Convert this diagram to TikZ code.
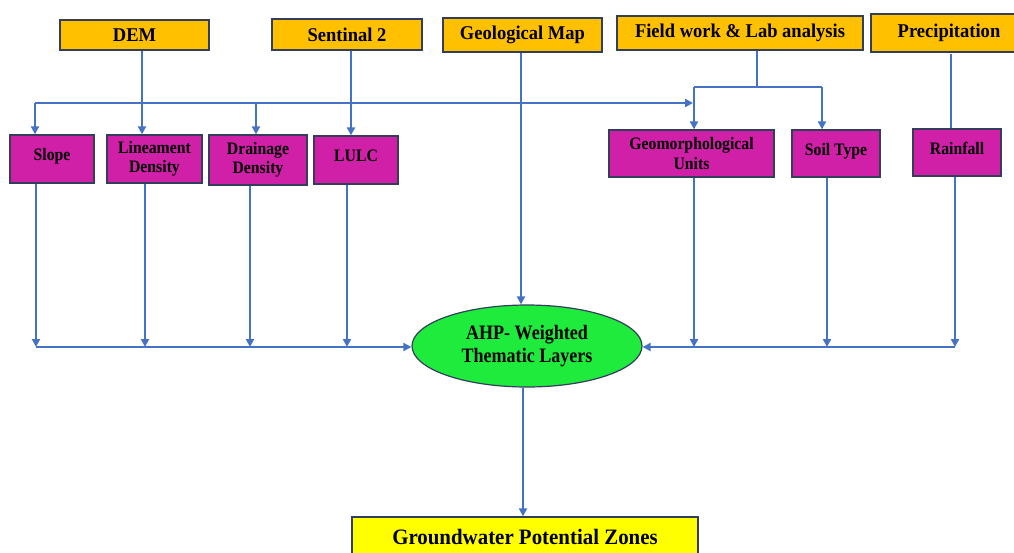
\documentclass[tikz,border=0pt]{standalone}
\usepackage{fontspec}
\setmainfont{Liberation Serif}
\newfontfamily\topfont[FakeStretch=0.95]{Liberation Serif}
\newfontfamily\midfont[FakeStretch=0.9]{Liberation Serif}
\newfontfamily\ellfont[FakeStretch=0.88]{Liberation Serif}
\usetikzlibrary{arrows.meta,shapes.geometric}
\definecolor{orangebox}{RGB}{255,192,0}
\definecolor{magbox}{RGB}{208,32,168}
\definecolor{greenell}{RGB}{30,235,60}
\definecolor{yellowbox}{RGB}{255,255,0}
\definecolor{conn}{RGB}{68,114,196}
\definecolor{edge}{RGB}{50,62,92}
\tikzset{
  obox/.style={draw=edge, line width=1.3pt, fill=orangebox, inner sep=0pt,
    font=\topfont\bfseries\fontsize{19.5}{22}\selectfont},
  mbox/.style={draw=edge, line width=1.3pt, fill=magbox, inner sep=0pt, align=center,
    font=\midfont\bfseries\fontsize{17.5}{19.5}\selectfont},
  single/.style={text height=12pt, text depth=9pt},
  ellbox/.style={ellipse, draw=edge, line width=1.2pt, fill=greenell, inner sep=0pt, align=center,
    minimum width=230pt, minimum height=82pt,
    font=\ellfont\bfseries\fontsize{20.5}{23.5}\selectfont},
  ybox/.style={draw=edge, line width=1.3pt, fill=yellowbox, inner sep=0pt,
    font=\topfont\bfseries\fontsize{22}{24}\selectfont},
  line/.style={draw=conn, line width=2.3pt},
  arr/.style={line, -{Triangle[length=8pt,width=8pt]}}
}
\begin{document}
\begin{tikzpicture}[x=1pt,y=-1pt]
\useasboundingbox (0,0) rectangle (1014,552);
\clip (0,0) rectangle (1014,552);

% top sources
\node[obox, minimum width=149pt, minimum height=30pt] (dem) at (134.5,35) {DEM};
\node[obox, minimum width=150pt, minimum height=31pt] (sen) at (347,34.5) {Sentinal 2};
\node[obox, minimum width=159pt, minimum height=34pt] (geol) at (522.5,35) {Geological Map};
\node[obox, minimum width=246pt, minimum height=34pt] (field) at (740,33) {Field work \& Lab analysis};
\node[obox, minimum width=156pt, minimum height=38pt] (prec) at (949,33) {Precipitation};

% thematic layers
\node[mbox, single, minimum width=84pt, minimum height=48pt] (slope) at (52,159) {Slope};
\node[mbox, minimum width=95pt, minimum height=48pt] (lin) at (154.5,159) {Lineament\\Density};
\node[mbox, minimum width=98pt, minimum height=50pt] (drain) at (258,160) {Drainage\\Density};
\node[mbox, single, minimum width=84pt, minimum height=48pt] (lulc) at (356,160) {LULC};
\node[mbox, minimum width=165pt, minimum height=47pt] (geom) at (691.5,153.5) {Geomorphological\\Units};
\node[mbox, single, minimum width=88pt, minimum height=47pt] (soil) at (836,153.5) {Soil Type};
\node[mbox, single, minimum width=88pt, minimum height=47pt] (rain) at (957,152.5) {Rainfall};

% AHP and result
\node[ellbox] (ahp) at (527,346) {AHP- Weighted\\Thematic Layers};
\node[ybox, minimum width=346pt, minimum height=40pt] (ground) at (525,537) {Groundwater Potential Zones};

% helper coordinates
\coordinate (demx) at (142,0);
\coordinate (b1) at (35,103);
\coordinate (b2) at (256,103);
\coordinate (b3) at (693,103);
\coordinate (sx) at (351,0);
\coordinate (gx) at (521,0);
\coordinate (fj) at (757,87);
\coordinate (fl) at (694,87);
\coordinate (fr) at (822,87);
\coordinate (px) at (951,54);
\coordinate (k1) at (36,347);
\coordinate (k2) at (145,347);
\coordinate (k3) at (250,347);
\coordinate (k4) at (347,347);
\coordinate (r1) at (694,347);
\coordinate (r2) at (827,347);
\coordinate (r3) at (955,347);
\coordinate (gw) at (523,0);

% DEM branch
\draw[arr] (dem.south -| demx) -- (lin.north -| demx);
\draw[arr] (b1) -- (b3);
\draw[arr] (b1) -- (slope.north -| b1);
\draw[arr] (b2) -- (drain.north -| b2);
% Sentinal
\draw[arr] (sen.south -| sx) -- (lulc.north -| sx);
% Geological map
\draw[arr] (geol.south -| gx) -- (ahp.north -| gx);
% Field work
\draw[line] (field.south -| fj) -- (fj);
\draw[line] (fl) -- (fr);
\draw[arr] (fl) -- (geom.north -| fl);
\draw[arr] (fr) -- (soil.north -| fr);
% Precipitation
\draw[line] (px) -- (rain.north -| px);

% left collectors
\draw[arr] (slope.south -| k1) -- (k1);
\draw[arr] (lin.south -| k2) -- (k2);
\draw[arr] (drain.south -| k3) -- (k3);
\draw[arr] (lulc.south -| k4) -- (k4);
\draw[arr] (k1) -- (k1 -| ahp.west);
% right collectors
\draw[arr] (geom.south -| r1) -- (r1);
\draw[arr] (soil.south -| r2) -- (r2);
\draw[arr] (rain.south -| r3) -- (r3);
\draw[arr] (r3) -- (r3 -| ahp.east);
% result
\draw[arr] (ahp.south -| gw) -- (ground.north -| gw);
\end{tikzpicture}
\end{document}
